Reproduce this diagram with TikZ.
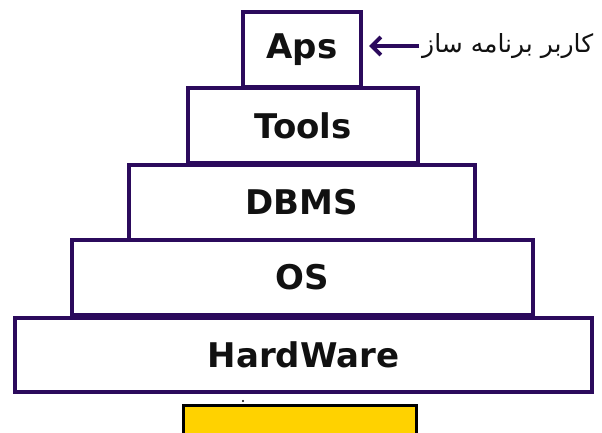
\documentclass[tikz,border=0pt]{standalone}
\usepackage{fontspec}
\setmainfont{DejaVu Sans}
\newfontfamily\farsifont[Script=Arabic]{DejaVu Sans}
\TeXXeTstate=1
\usetikzlibrary{arrows.meta}
\definecolor{layerline}{HTML}{2B0A5C}
\definecolor{baseyellow}{HTML}{FFD200}
\definecolor{inktext}{HTML}{111111}
\begin{document}
\begin{tikzpicture}[x=1pt,y=-1pt,
  layer/.style={draw=layerline, line width=4pt, fill=white, inner sep=0pt,
    text=inktext, font=\bfseries\fontsize{34}{34}\selectfont},
]
\useasboundingbox (0,0) rectangle (602,433);
\fill[white] (0,0) rectangle (602,433);

% yellow block under the stack, running off the lower edge
\begin{scope}
  \clip (0,0) rectangle (602,433);
  \node[draw=black, line width=2.5pt, fill=baseyellow, minimum width=233pt,
        minimum height=40pt, anchor=north west] (base) at (182,404) {};
\end{scope}
\fill[black] (243,401) circle (1.2pt);

% the layer stack, top to bottom
\node[layer, minimum width=118pt, minimum height=75pt] (aps)   at (302,49.5)  {Aps};
\node[layer, minimum width=230pt, minimum height=75pt] (tools) at (303,125.5) {Tools};
\node[layer, minimum width=346pt, minimum height=75pt] (dbms)  at (302,202.5) {DBMS};
\node[layer, minimum width=461pt, minimum height=75pt] (os)    at (302.5,277.5) {OS};
\node[layer, minimum width=577pt, minimum height=74pt] (hw)    at (303.5,355) {HardWare};

% user label with arrow pointing at the application layer
\node[anchor=west, inner sep=0pt, text=inktext,
      font=\farsifont\fontsize{25}{25}\selectfont]
  (role) at (422,46) {\beginR کاربر برنامه ساز\endR};
\coordinate (tail) at ([xshift=-3pt]role.west);
\draw[layerline, line width=4pt, shorten >=6pt,
      -{Straight Barb[length=9pt,width=18pt,line width=4pt]}] (tail) -- (tail -| aps.east);
\end{tikzpicture}
\end{document}
